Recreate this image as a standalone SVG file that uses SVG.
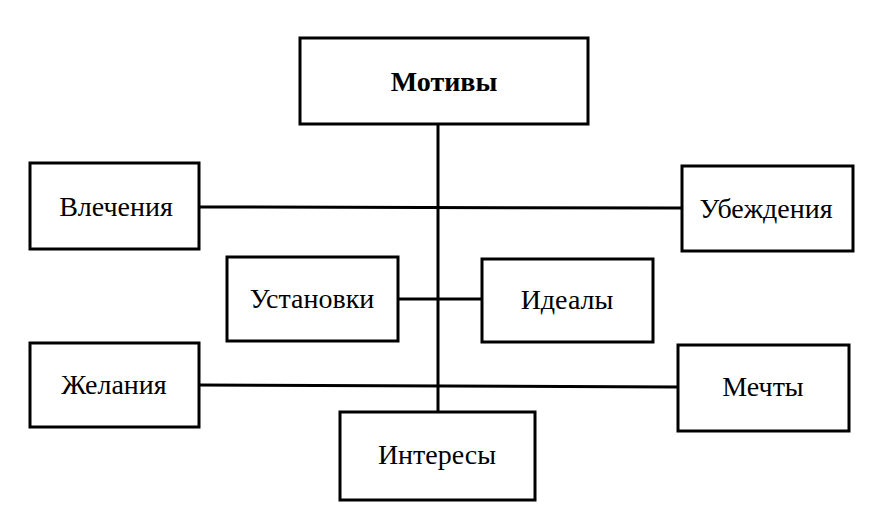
<svg xmlns="http://www.w3.org/2000/svg" width="881" height="521" viewBox="0 0 881 521">
<style>
.b{fill:#fff;stroke:#000;stroke-width:3}
.t{font-family:"Liberation Serif",serif;font-size:28px;text-anchor:middle;fill:#000}
.c{stroke:#000;stroke-width:3;fill:none}
</style>
<rect width="881" height="521" fill="#fff"/>
<g id="connectors">
<line class="c" x1="438" y1="124" x2="438" y2="412"/>
<line class="c" x1="199" y1="207" x2="682" y2="208"/>
<line class="c" x1="398" y1="299" x2="482" y2="299"/>
<line class="c" x1="199" y1="385" x2="678" y2="387"/>
</g>
<g id="motivy"><rect class="b" x="300" y="38" width="288" height="86"/><text class="t" x="444" y="91" font-weight="bold">Мотивы</text></g>
<g id="vlecheniya"><rect class="b" x="30" y="163" width="169" height="86"/><text class="t" x="116" y="216">Влечения</text></g>
<g id="ubezhdeniya"><rect class="b" x="682" y="166" width="171" height="85"/><text class="t" x="766" y="218">Убеждения</text></g>
<g id="ustanovki"><rect class="b" x="227" y="257" width="171" height="84"/><text class="t" x="312" y="308">Установки</text></g>
<g id="idealy"><rect class="b" x="482" y="259" width="171" height="83"/><text class="t" x="567" y="309">Идеалы</text></g>
<g id="zhelaniya"><rect class="b" x="30" y="343" width="169" height="84"/><text class="t" x="114" y="394">Желания</text></g>
<g id="mechty"><rect class="b" x="678" y="345" width="171" height="86"/><text class="t" x="763" y="396">Мечты</text></g>
<g id="interesy"><rect class="b" x="340" y="412" width="195" height="88"/><text class="t" x="437" y="464">Интересы</text></g>
</svg>
